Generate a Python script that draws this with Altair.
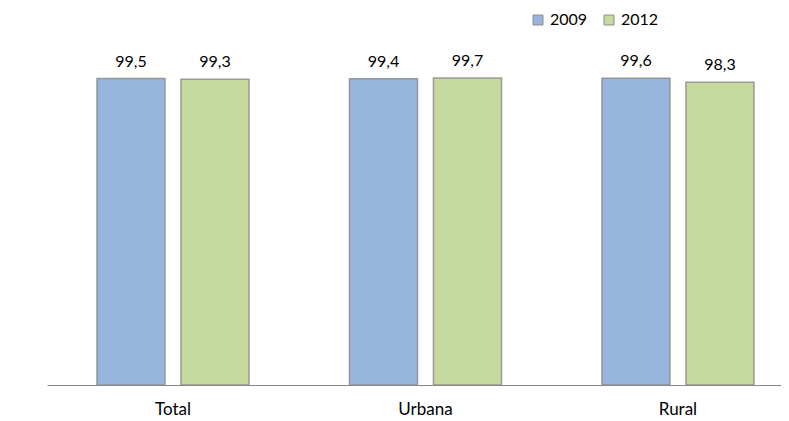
import altair as alt
import pandas as pd

categories = ["Total", "Urbana", "Rural"]
years = ["2009", "2012"]
values_2009 = [99.5, 99.4, 99.6]
values_2012 = [99.3, 99.7, 98.3]
colors = ["#98B6DD", "#C6DA9E"]

df = pd.DataFrame({
    "area": categories * 2,
    "year": [years[0]] * 3 + [years[1]] * 3,
    "value": values_2009 + values_2012,
})

x = alt.X(
    "area:N", sort=categories, title=None,
    scale=alt.Scale(paddingInner=0.398, paddingOuter=0.1525, align=0.649),
    axis=alt.Axis(labelAngle=0, ticks=False, domainColor="#868686", domainWidth=1.2,
                  labelFont="Lato", labelFontSize=17, labelPadding=16, labelColor="#000000"),
)
xoff = alt.XOffset("year:N", sort=years, scale=alt.Scale(paddingInner=0.19, paddingOuter=0))
y = alt.Y("value:Q", scale=alt.Scale(domain=[0, 100]), axis=None)

base = alt.Chart(df).encode(x=x, xOffset=xoff, y=y)

bars = base.mark_bar(stroke="#8c8c8c", strokeWidth=1.5, strokeOpacity=0.85).encode(
    color=alt.Color(
        "year:N",
        scale=alt.Scale(domain=years, range=colors),
        legend=alt.Legend(
            orient="none", legendX=483, legendY=-65, direction="horizontal", title=None,
            symbolType="square", symbolSize=100, labelFont="Lato", labelFontSize=16,
            columnPadding=13, labelOffset=4, symbolStrokeColor="#8c8c8c",
            symbolStrokeWidth=1, labelColor="#000000",
        ),
    )
)

text = base.mark_text(dy=-12, baseline="alphabetic", font="Lato", fontSize=16, color="#000000").encode(
    text="label:N"
)

chart = (
    (bars + text)
    .transform_calculate(label="replace(format(datum.value, '.1f'), '.', ',')")
    .properties(
        width=734, height=308,
        padding={"left": 39, "top": 69, "right": 0, "bottom": 36},
        autosize=alt.AutoSizeParams(type="none"),
        background="white",
    )
    .configure_view(stroke=None)
)

chart.save("out.html", embed_options={"renderer": "svg", "actions": False})
